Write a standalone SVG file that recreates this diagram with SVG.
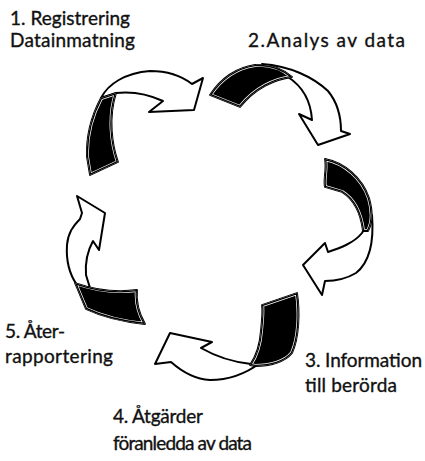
<svg xmlns="http://www.w3.org/2000/svg" xmlns:xlink="http://www.w3.org/1999/xlink" width="425" height="461" viewBox="0 0 425 461">
<style>
.lbl{font-family:Lato,"Liberation Sans","DejaVu Sans",sans-serif;font-size:19px;fill:#111;stroke:#111;stroke-width:0.35}
.shaft{fill:#fff;stroke:#000;stroke-width:2;stroke-linejoin:round}
.band{fill:#000;stroke:#000;stroke-width:1.8;stroke-linejoin:round}
.hl{fill:none;stroke:#fff;stroke-width:4}
.hlk{fill:none;stroke:#000;stroke-width:2.6}
</style>
<defs>
<path id="bA" d="M101,98 C92,115 86,135 87,157 L90,175 L118,162 C112,145 108,118 116,93 Z"/>
<path id="bB" d="M210,95 C220,80 235,68 255,65 C270,64 283,69 292,77 C275,79 255,88 240,107 Z"/>
<path id="bC" d="M325,159 C345,163 362,178 369,198 C373,212 372,224 368,231 L363,231 C361,215 355,200 342,192 L325,187 C323,180 327,170 325,159 Z"/>
<path id="bD" d="M262,305 L297,293 C300,312 299,338 292,353 C285,362 270,366 255,366 L250,365 C257,355 260,345 261,330 C262,320 263,312 262,305 Z"/>
<path id="bE" d="M75,283 C95,290 115,293 137,290 C136,300 138,312 145,324 C125,322 105,318 86,309 C82,300 79,292 75,283 Z"/>
<clipPath id="cA"><use xlink:href="#bA"/></clipPath>
<clipPath id="cB"><use xlink:href="#bB"/></clipPath>
<clipPath id="cC"><use xlink:href="#bC"/></clipPath>
<clipPath id="cD"><use xlink:href="#bD"/></clipPath>
<clipPath id="cE"><use xlink:href="#bE"/></clipPath>
</defs>
<rect width="425" height="461" fill="#fff"/>
<g id="connectors">
<g id="arrow-1-2">
<path class="shaft" d="M101,98 C108,84 125,73 150,71 C168,71 183,77 192,84 L203,78 L194,110 L149,112 L163,101 C150,95 133,91 116,93 Z"/>
<use xlink:href="#bA" class="band"/>
<g clip-path="url(#cA)"><use xlink:href="#bA" class="hl"/><use xlink:href="#bA" class="hlk"/></g>
</g>
<g id="arrow-2-3">
<path class="shaft" d="M262,64 C290,66 313,77 328,91 C337,102 341,116 341,131 L350,134 L318,145 L299,114 L312,120 C311,104 305,88 288,77 Z"/>
<use xlink:href="#bB" class="band"/>
<g clip-path="url(#cB)"><use xlink:href="#bB" class="hl"/><use xlink:href="#bB" class="hlk"/></g>
</g>
<g id="arrow-3-4">
<path class="shaft" d="M372,215 C374,240 370,262 356,273 C346,279 335,281 325,281 L322,295 L303,265 L325,243 L328,252 C340,248 354,243 362,233 Z"/>
<use xlink:href="#bC" class="band"/>
<g clip-path="url(#cC)"><use xlink:href="#bC" class="hl"/><use xlink:href="#bC" class="hlk"/></g>
</g>
<g id="arrow-4-5">
<path class="shaft" d="M260,363 C248,372 230,380 210,380 C192,379 180,370 171,362 L155,364 L170,333 L212,342 L201,348 C215,356 232,362 251,364 Z"/>
<use xlink:href="#bD" class="band"/>
<g clip-path="url(#cD)"><use xlink:href="#bD" class="hl"/><use xlink:href="#bD" class="hlk"/></g>
</g>
<g id="arrow-5-1">
<path class="shaft" d="M77,285 C70,275 66,260 67,245 C68,233 73,226 80,219 L82,213 L77,196 L105,213 L99,250 L93,241 C88,250 85,262 86,275 L90,288 Z"/>
<use xlink:href="#bE" class="band"/>
<g clip-path="url(#cE)"><use xlink:href="#bE" class="hl"/><use xlink:href="#bE" class="hlk"/></g>
</g>
</g>
<g id="node-1"><text class="lbl" x="10" y="25" textLength="120">1. Registrering</text><text class="lbl" x="10" y="47" textLength="125">Datainmatning</text></g>
<g id="node-2"><text class="lbl" x="248" y="47" textLength="157">2.Analys av data</text></g>
<g id="node-3"><text class="lbl" x="305" y="367" textLength="117">3. Information</text><text class="lbl" x="305" y="392" textLength="92">till berörda</text></g>
<g id="node-4"><text class="lbl" x="113" y="423" textLength="90">4. Åtgärder</text><text class="lbl" x="113" y="450" textLength="139">föranledda av data</text></g>
<g id="node-5"><text class="lbl" x="5" y="338" textLength="60">5. Åter-</text><text class="lbl" x="5" y="363" textLength="108">rapportering</text></g>
</svg>
